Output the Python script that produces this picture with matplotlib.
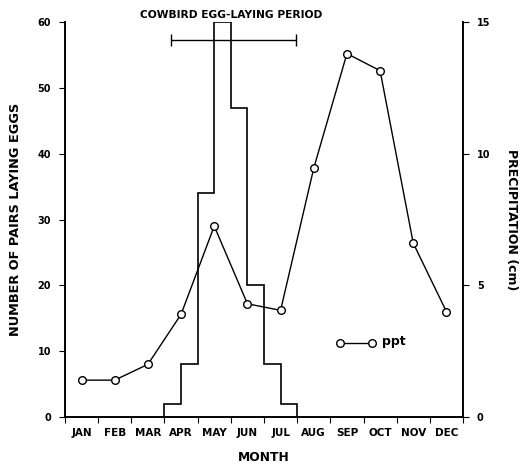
import numpy as np
import matplotlib
matplotlib.use("Agg")
import matplotlib.pyplot as plt

plt.rcParams["font.family"] = "DejaVu Sans"
plt.rcParams["font.weight"] = "bold"

months = ["JAN", "FEB", "MAR", "APR", "MAY", "JUN",
          "JUL", "AUG", "SEP", "OCT", "NOV", "DEC"]
# pairs laying eggs per half-month, April 1 through July 31
egg_bin_start = 3.0
egg_counts = [2, 8, 34, 60, 47, 20, 8, 2]
# monthly precipitation (cm)
ppt = [1.4, 1.4, 2.0, 3.9, 7.25, 4.3, 4.05, 9.45, 13.8, 13.15, 6.6, 4.0]
# laying period (fractional months) and its drawn height
period_start = 3.2
period_end = 6.95
period_level = 57.3

fig = plt.figure(figsize=(5.27, 4.65), dpi=100)
ax = fig.add_axes([0.1233, 0.1032, 0.7553, 0.8495])
ax2 = ax.twinx()

edges = egg_bin_start + 0.5 * np.arange(len(egg_counts) + 1)
ax.stairs(egg_counts, edges, baseline=0, fill=False, color="black", lw=1.2)

ax.errorbar([(period_start + period_end) / 2], [period_level],
            xerr=[(period_end - period_start) / 2], fmt="none",
            ecolor="black", elinewidth=1.0, capsize=4, capthick=1.0)
ax.text(5.0, 61.1, "COWBIRD EGG-LAYING PERIOD",
        ha="center", va="center", fontsize=7.7, fontweight="bold")

xm = np.arange(12) + 0.5
ax2.plot(xm, ppt, color="black", lw=1.0, marker="o", ms=5.5,
         mfc="white", mec="black", mew=1.0)
ax2.plot([8.3, 9.25], [2.8, 2.8], color="black", lw=1.0, marker="o", ms=5.5,
         mfc="white", mec="black", mew=1.0)
ax2.text(9.55, 2.85, "ppt", ha="left", va="center", fontsize=9, fontweight="bold")

ax.set_xlim(0, 12)
ax.set_ylim(0, 60)
ax2.set_ylim(0, 15)

ax.set_xticks(np.arange(13))
ax.set_xticklabels([])
ax.set_xticks(xm, minor=True)
ax.set_xticklabels(months, minor=True, fontsize=7.5, fontweight="bold")
ax.tick_params(axis="x", which="minor", length=0, pad=8)
ax.tick_params(axis="x", which="major", length=4, direction="out")

ax.set_yticks([0, 10, 20, 30, 40, 50, 60])
ax.tick_params(axis="y", length=4, direction="out", labelsize=7, pad=6)
ax2.set_yticks([0, 5, 10, 15])
ax2.tick_params(axis="y", length=4, direction="out", labelsize=7, pad=6)
for a in (ax, ax2):
    for lbl in a.get_yticklabels():
        lbl.set_fontweight("bold")

for a in (ax, ax2):
    a.spines["top"].set_visible(False)
    for s in a.spines.values():
        s.set_linewidth(1.2)

ax.set_ylabel("NUMBER OF PAIRS LAYING EGGS", fontsize=9.3, fontweight="bold", labelpad=11)
ax2.set_ylabel("PRECIPITATION (cm)", fontsize=9, fontweight="bold",
               rotation=270, labelpad=20)
ax.set_xlabel("MONTH", fontsize=8.8, fontweight="bold", labelpad=9)

fig.savefig("out.png", dpi=100)
